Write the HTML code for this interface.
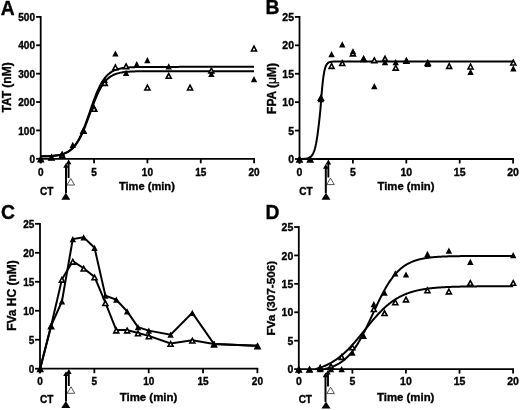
<!DOCTYPE html><html><head><meta charset="utf-8"><style>html,body{margin:0;padding:0;background:#fff;overflow:hidden}svg{display:block;will-change:transform}text{font-family:"Liberation Sans",sans-serif;font-weight:bold;fill:#000;stroke:#000;stroke-width:0.35px}</style></head><body><svg width="520" height="410" viewBox="0 0 520 410"><rect width="520" height="410" fill="#fff"/><text x="0.7" y="14.5" font-size="19.3">A</text><path d="M40.7 16V163.3" stroke="#000" stroke-width="1.8" fill="none"/><path d="M39.8 158.8H255" stroke="#000" stroke-width="1.8" fill="none"/><path d="M36.1 158.8H40.7" stroke="#000" stroke-width="1.8"/><text x="35" y="162.9" font-size="10" text-anchor="end">0</text><path d="M36.1 130.42H40.7" stroke="#000" stroke-width="1.8"/><text x="35" y="134.52" font-size="10" text-anchor="end">100</text><path d="M36.1 102.04H40.7" stroke="#000" stroke-width="1.8"/><text x="35" y="106.14" font-size="10" text-anchor="end">200</text><path d="M36.1 73.66H40.7" stroke="#000" stroke-width="1.8"/><text x="35" y="77.76" font-size="10" text-anchor="end">300</text><path d="M36.1 45.28H40.7" stroke="#000" stroke-width="1.8"/><text x="35" y="49.38" font-size="10" text-anchor="end">400</text><path d="M36.1 16.9H40.7" stroke="#000" stroke-width="1.8"/><text x="35" y="21" font-size="10" text-anchor="end">500</text><path d="M40.7 158.8V163.3" stroke="#000" stroke-width="1.8"/><text x="40.7" y="175.5" font-size="10" text-anchor="middle">0</text><path d="M94.05 158.8V163.3" stroke="#000" stroke-width="1.8"/><text x="94.05" y="175.5" font-size="10" text-anchor="middle">5</text><path d="M147.4 158.8V163.3" stroke="#000" stroke-width="1.8"/><text x="147.4" y="175.5" font-size="10" text-anchor="middle">10</text><path d="M200.75 158.8V163.3" stroke="#000" stroke-width="1.8"/><text x="200.75" y="175.5" font-size="10" text-anchor="middle">15</text><path d="M254.1 158.8V163.3" stroke="#000" stroke-width="1.8"/><text x="254.1" y="175.5" font-size="10" text-anchor="middle">20</text><text x="146.9" y="190.2" font-size="11.1" text-anchor="middle">Time (min)</text><text transform="translate(11.2,87.45) rotate(-90)" font-size="12" text-anchor="middle">TAT (nM)</text><path d="M40.8 156.4L41.87 156.38L42.93 156.35L44 156.32L45.06 156.29L46.13 156.25L47.2 156.21L48.26 156.16L49.33 156.1L50.39 156.03L51.46 155.95L52.53 155.86L53.59 155.76L54.66 155.64L55.72 155.51L56.79 155.36L57.86 155.18L58.92 154.98L59.99 154.75L61.05 154.49L62.12 154.19L63.19 153.85L64.25 153.46L65.32 153.02L66.38 152.52L67.45 151.95L68.52 151.3L69.58 150.57L70.65 149.75L71.71 148.82L72.78 147.78L73.85 146.62L74.91 145.33L75.98 143.89L77.04 142.3L78.11 140.56L79.18 138.65L80.24 136.58L81.31 134.34L82.37 131.94L83.44 129.38L84.51 126.69L85.57 123.86L86.64 120.92L87.7 117.9L88.77 114.82L89.84 111.71L90.9 108.6L91.97 105.53L93.03 102.5L94.1 99.57L95.17 96.74L96.23 94.04L97.3 91.49L98.36 89.08L99.43 86.85L100.5 84.77L101.56 82.87L102.63 81.12L103.69 79.53L104.76 78.1L105.83 76.8L106.89 75.64L107.96 74.6L109.02 73.68L110.09 72.85L111.16 72.12L112.22 71.48L113.29 70.91L114.35 70.41L115.42 69.96L116.49 69.57L117.55 69.23L118.62 68.93L119.68 68.67L120.75 68.44L121.82 68.24L122.88 68.07L123.95 67.92L125.01 67.78L126.08 67.66L127.15 67.56L128.21 67.47L129.28 67.4L130.34 67.33L131.41 67.27L132.48 67.22L133.54 67.17L134.61 67.14L135.67 67.1L136.74 67.07L137.81 67.05L138.87 67.02L139.94 67.01L141 66.99L142.07 66.97L143.14 66.96L144.2 66.95L145.27 66.94L146.33 66.93L147.4 66.92L148.47 66.92L149.53 66.91L150.6 66.91L151.66 66.9L152.73 66.9L153.8 66.9L154.86 66.89L155.93 66.89L156.99 66.89L158.06 66.89L159.13 66.88L160.19 66.88L161.26 66.88L162.32 66.88L163.39 66.88L164.46 66.88L165.52 66.88L166.59 66.88L167.65 66.88L168.72 66.88L169.79 66.88L170.85 66.88L171.92 66.88L172.98 66.88L174.05 66.88L175.12 66.88L176.18 66.88L177.25 66.88L178.31 66.88L179.38 66.87L180.45 66.87L181.51 66.87L182.58 66.87L183.64 66.87L184.71 66.87L185.78 66.87L186.84 66.87L187.91 66.87L188.97 66.87L190.04 66.87L191.11 66.87L192.17 66.87L193.24 66.87L194.3 66.87L195.37 66.87L196.44 66.87L197.5 66.87L198.57 66.87L199.63 66.87L200.7 66.87L201.77 66.87L202.83 66.87L203.9 66.87L204.96 66.87L206.03 66.87L207.1 66.87L208.16 66.87L209.23 66.87L210.29 66.87L211.36 66.87L212.43 66.87L213.49 66.87L214.56 66.87L215.62 66.87L216.69 66.87L217.76 66.87L218.82 66.87L219.89 66.87L220.95 66.87L222.02 66.87L223.09 66.87L224.15 66.87L225.22 66.87L226.28 66.87L227.35 66.87L228.42 66.87L229.48 66.87L230.55 66.87L231.61 66.87L232.68 66.87L233.75 66.87L234.81 66.87L235.88 66.87L236.94 66.87L238.01 66.87L239.08 66.87L240.14 66.87L241.21 66.87L242.27 66.87L243.34 66.87L244.41 66.87L245.47 66.87L246.54 66.87L247.6 66.87L248.67 66.87L249.74 66.87L250.8 66.87L251.87 66.87L252.93 66.87L254 66.87" fill="none" stroke="#000" stroke-width="2" stroke-linejoin="round"/><path d="M40.8 156.41L41.87 156.39L42.93 156.36L44 156.33L45.06 156.3L46.13 156.27L47.2 156.22L48.26 156.17L49.33 156.12L50.39 156.05L51.46 155.98L52.53 155.9L53.59 155.8L54.66 155.69L55.72 155.56L56.79 155.41L57.86 155.25L58.92 155.06L59.99 154.84L61.05 154.59L62.12 154.3L63.19 153.98L64.25 153.61L65.32 153.19L66.38 152.71L67.45 152.17L68.52 151.55L69.58 150.86L70.65 150.07L71.71 149.19L72.78 148.2L73.85 147.09L74.91 145.86L75.98 144.49L77.04 142.98L78.11 141.32L79.18 139.51L80.24 137.53L81.31 135.4L82.37 133.11L83.44 130.68L84.51 128.11L85.57 125.41L86.64 122.62L87.7 119.74L88.77 116.81L89.84 113.85L90.9 110.89L91.97 107.95L93.03 105.08L94.1 102.28L95.17 99.59L96.23 97.02L97.3 94.58L98.36 92.3L99.43 90.16L100.5 88.19L101.56 86.37L102.63 84.71L103.69 83.2L104.76 81.83L105.83 80.6L106.89 79.49L107.96 78.5L109.02 77.62L110.09 76.84L111.16 76.14L112.22 75.53L113.29 74.98L114.35 74.51L115.42 74.09L116.49 73.72L117.55 73.39L118.62 73.11L119.68 72.86L120.75 72.64L121.82 72.45L122.88 72.28L123.95 72.13L125.01 72.01L126.08 71.9L127.15 71.8L128.21 71.71L129.28 71.64L130.34 71.58L131.41 71.52L132.48 71.47L133.54 71.43L134.61 71.39L135.67 71.36L136.74 71.33L137.81 71.31L138.87 71.29L139.94 71.27L141 71.25L142.07 71.24L143.14 71.23L144.2 71.21L145.27 71.21L146.33 71.2L147.4 71.19L148.47 71.18L149.53 71.18L150.6 71.17L151.66 71.17L152.73 71.17L153.8 71.16L154.86 71.16L155.93 71.16L156.99 71.16L158.06 71.15L159.13 71.15L160.19 71.15L161.26 71.15L162.32 71.15L163.39 71.15L164.46 71.15L165.52 71.15L166.59 71.15L167.65 71.15L168.72 71.15L169.79 71.15L170.85 71.15L171.92 71.15L172.98 71.14L174.05 71.14L175.12 71.14L176.18 71.14L177.25 71.14L178.31 71.14L179.38 71.14L180.45 71.14L181.51 71.14L182.58 71.14L183.64 71.14L184.71 71.14L185.78 71.14L186.84 71.14L187.91 71.14L188.97 71.14L190.04 71.14L191.11 71.14L192.17 71.14L193.24 71.14L194.3 71.14L195.37 71.14L196.44 71.14L197.5 71.14L198.57 71.14L199.63 71.14L200.7 71.14L201.77 71.14L202.83 71.14L203.9 71.14L204.96 71.14L206.03 71.14L207.1 71.14L208.16 71.14L209.23 71.14L210.29 71.14L211.36 71.14L212.43 71.14L213.49 71.14L214.56 71.14L215.62 71.14L216.69 71.14L217.76 71.14L218.82 71.14L219.89 71.14L220.95 71.14L222.02 71.14L223.09 71.14L224.15 71.14L225.22 71.14L226.28 71.14L227.35 71.14L228.42 71.14L229.48 71.14L230.55 71.14L231.61 71.14L232.68 71.14L233.75 71.14L234.81 71.14L235.88 71.14L236.94 71.14L238.01 71.14L239.08 71.14L240.14 71.14L241.21 71.14L242.27 71.14L243.34 71.14L244.41 71.14L245.47 71.14L246.54 71.14L247.6 71.14L248.67 71.14L249.74 71.14L250.8 71.14L251.87 71.14L252.93 71.14L254 71.14" fill="none" stroke="#000" stroke-width="2" stroke-linejoin="round"/><g><path d="M40.8 156.95L43.3 161.65L38.3 161.65Z" fill="#fff" stroke="#000" stroke-width="1.6" stroke-linejoin="miter"/><path d="M51.46 155.24L53.96 159.94L48.96 159.94Z" fill="#fff" stroke="#000" stroke-width="1.6" stroke-linejoin="miter"/><path d="M62.12 152.97L64.62 157.67L59.62 157.67Z" fill="#fff" stroke="#000" stroke-width="1.6" stroke-linejoin="miter"/><path d="M83.44 128.49L85.94 133.19L80.94 133.19Z" fill="#fff" stroke="#000" stroke-width="1.6" stroke-linejoin="miter"/><path d="M94.1 106.58L96.6 111.28L91.6 111.28Z" fill="#fff" stroke="#000" stroke-width="1.6" stroke-linejoin="miter"/><path d="M104.76 80.68L107.26 85.38L102.26 85.38Z" fill="#fff" stroke="#000" stroke-width="1.6" stroke-linejoin="miter"/><path d="M115.42 65.02L117.92 69.72L112.92 69.72Z" fill="#fff" stroke="#000" stroke-width="1.6" stroke-linejoin="miter"/><path d="M126.08 63.89L128.58 68.59L123.58 68.59Z" fill="#fff" stroke="#000" stroke-width="1.6" stroke-linejoin="miter"/><path d="M147.4 85.23L149.9 89.93L144.9 89.93Z" fill="#fff" stroke="#000" stroke-width="1.6" stroke-linejoin="miter"/><path d="M168.72 73.56L171.22 78.26L166.22 78.26Z" fill="#fff" stroke="#000" stroke-width="1.6" stroke-linejoin="miter"/><path d="M190.04 85.23L192.54 89.93L187.54 89.93Z" fill="#fff" stroke="#000" stroke-width="1.6" stroke-linejoin="miter"/><path d="M211.36 68.15L213.86 72.85L208.86 72.85Z" fill="#fff" stroke="#000" stroke-width="1.6" stroke-linejoin="miter"/><path d="M254 46.24L256.5 50.94L251.5 50.94Z" fill="#fff" stroke="#000" stroke-width="1.6" stroke-linejoin="miter"/></g><g><path d="M40.8 155.7L44 161.9L37.6 161.9Z"/><path d="M51.46 153.99L54.66 160.19L48.26 160.19Z"/><path d="M62.12 150.58L65.32 156.78L58.92 156.78Z"/><path d="M72.78 141.75L75.98 147.95L69.58 147.95Z"/><path d="M83.44 127.24L86.64 133.44L80.24 133.44Z"/><path d="M94.1 104.47L97.3 110.67L90.9 110.67Z"/><path d="M104.76 76.87L107.96 83.07L101.56 83.07Z"/><path d="M115.42 50.4L118.62 56.6L112.22 56.6Z"/><path d="M126.08 69.75L129.28 75.95L122.88 75.95Z"/><path d="M136.74 60.93L139.94 67.13L133.54 67.13Z"/><path d="M147.4 56.94L150.6 63.14L144.2 63.14Z"/><path d="M168.72 63.21L171.92 69.41L165.52 69.41Z"/><path d="M211.36 70.89L214.56 77.09L208.16 77.09Z"/><path d="M254 76.01L257.2 82.21L250.8 82.21Z"/></g><path d="M94.1 106.58L96.6 111.28L91.6 111.28Z" fill="#fff" stroke="#000" stroke-width="1.6" stroke-linejoin="miter"/><text x="46.7" y="195" font-size="10" text-anchor="middle">CT</text><path d="M70.8 178.5L74.6 185L67 185Z" fill="#fff" stroke="#555" stroke-width="1"/><path d="M68.6 162.8V178" stroke="#000" stroke-width="1.9"/><path d="M68.6 159.4L71.4 164.2L65.8 164.2Z"/><path d="M66 166V193.3" stroke="#000" stroke-width="2"/><path d="M66 163L68.8 167.8L63.2 167.8Z"/><path d="M65.8 192.8L70.3 199.8L61.3 199.8Z"/><text x="265.6" y="14.45" font-size="19.3">B</text><path d="M299.5 16V163.5" stroke="#000" stroke-width="1.8" fill="none"/><path d="M298.6 159H514" stroke="#000" stroke-width="1.8" fill="none"/><path d="M294.9 159H299.5" stroke="#000" stroke-width="1.8"/><text x="294" y="163.1" font-size="10.5" text-anchor="end">0</text><path d="M294.9 130.58H299.5" stroke="#000" stroke-width="1.8"/><text x="294" y="134.68" font-size="10.5" text-anchor="end">5</text><path d="M294.9 102.16H299.5" stroke="#000" stroke-width="1.8"/><text x="294" y="106.26" font-size="10.5" text-anchor="end">10</text><path d="M294.9 73.74H299.5" stroke="#000" stroke-width="1.8"/><text x="294" y="77.84" font-size="10.5" text-anchor="end">15</text><path d="M294.9 45.32H299.5" stroke="#000" stroke-width="1.8"/><text x="294" y="49.42" font-size="10.5" text-anchor="end">20</text><path d="M294.9 16.9H299.5" stroke="#000" stroke-width="1.8"/><text x="294" y="21" font-size="10.5" text-anchor="end">25</text><path d="M299.5 159V163.5" stroke="#000" stroke-width="1.8"/><text x="299.5" y="175.6" font-size="10.5" text-anchor="middle">0</text><path d="M352.9 159V163.5" stroke="#000" stroke-width="1.8"/><text x="352.9" y="175.6" font-size="10.5" text-anchor="middle">5</text><path d="M406.3 159V163.5" stroke="#000" stroke-width="1.8"/><text x="406.3" y="175.6" font-size="10.5" text-anchor="middle">10</text><path d="M459.7 159V163.5" stroke="#000" stroke-width="1.8"/><text x="459.7" y="175.6" font-size="10.5" text-anchor="middle">15</text><path d="M513.1 159V163.5" stroke="#000" stroke-width="1.8"/><text x="513.1" y="175.6" font-size="10.5" text-anchor="middle">20</text><text x="406" y="189.8" font-size="11.3" text-anchor="middle">Time (min)</text><text transform="translate(276.4,88.5) rotate(-90)" font-size="12" text-anchor="middle">FPA (<tspan font-weight="normal">μ</tspan>M)</text><path d="M299.5 158.97L300.03 158.96L300.57 158.96L301.1 158.95L301.64 158.93L302.17 158.92L302.71 158.9L303.24 158.88L303.78 158.85L304.31 158.81L304.85 158.77L305.38 158.72L305.91 158.65L306.45 158.57L306.98 158.47L307.52 158.35L308.05 158.2L308.59 158.01L309.12 157.79L309.66 157.51L310.19 157.17L310.72 156.76L311.26 156.26L311.79 155.64L312.33 154.9L312.86 154L313.4 152.91L313.93 151.61L314.47 150.05L315 148.21L315.54 146.04L316.07 143.52L316.6 140.61L317.14 137.29L317.67 133.58L318.21 129.47L318.74 125.02L319.28 120.27L319.81 115.32L320.35 110.26L320.88 103.15L321.41 96.33L321.95 90.06L322.48 84.5L323.02 79.74L323.55 75.78L324.09 72.56L324.62 69.99L325.16 67.98L325.69 66.42L326.23 65.22L326.76 64.31L327.29 63.61L327.83 63.09L328.36 62.7L328.9 62.4L329.43 62.18L329.97 62.02L330.5 61.89L331.04 61.8L331.57 61.73L332.1 61.68L332.64 61.64L333.17 61.61L333.71 61.59L334.24 61.58L334.78 61.56L335.31 61.56L335.85 61.55L336.38 61.54L336.92 61.54L337.45 61.54L337.98 61.54L338.52 61.53L339.05 61.53L339.59 61.53L340.12 61.53L340.66 61.53L341.19 61.53L341.73 61.53L342.26 61.53L342.79 61.53L343.33 61.53L343.86 61.53L344.4 61.53L344.93 61.53L345.47 61.53L346 61.53L346.54 61.53L347.07 61.53L347.61 61.53L348.14 61.53L348.67 61.53L349.21 61.53L349.74 61.53L350.28 61.53L350.81 61.53L351.35 61.53L351.88 61.53L352.42 61.53L352.95 61.53L353.48 61.53L354.02 61.53L354.55 61.53L355.09 61.53L355.62 61.53L356.16 61.53L356.69 61.53L357.23 61.53L357.76 61.53L358.3 61.53L358.83 61.53L359.36 61.53L359.9 61.53L360.43 61.53L360.97 61.53L361.5 61.53L362.04 61.53L362.57 61.53L363.11 61.53L363.64 61.53L364.17 61.53L364.71 61.53L365.24 61.53L365.78 61.53L366.31 61.53L366.85 61.53L367.38 61.53L367.92 61.53L368.45 61.53L368.99 61.53L369.52 61.53L370.05 61.53L370.59 61.53L371.12 61.53L371.66 61.53L372.19 61.53L372.73 61.53L373.26 61.53L373.8 61.53L374.33 61.53L374.86 61.53L375.4 61.53L375.93 61.53L376.47 61.53L377 61.53L377.54 61.53L378.07 61.53L378.61 61.53L379.14 61.53L379.68 61.53L380.21 61.53L380.74 61.53L381.28 61.53L381.81 61.53L382.35 61.53L382.88 61.53L383.42 61.53L383.95 61.53L384.49 61.53L385.02 61.53L385.55 61.53L386.09 61.53L386.62 61.53L387.16 61.53L387.69 61.53L388.23 61.53L388.76 61.53L389.3 61.53L389.83 61.53L390.37 61.53L390.9 61.53L391.43 61.53L391.97 61.53L392.5 61.53L393.04 61.53L393.57 61.53L394.11 61.53L394.64 61.53L395.18 61.53L395.71 61.53L396.24 61.53L396.78 61.53L397.31 61.53L397.85 61.53L398.38 61.53L398.92 61.53L399.45 61.53L399.99 61.53L400.52 61.53L401.06 61.53L401.59 61.53L402.12 61.53L402.66 61.53L403.19 61.53L403.73 61.53L404.26 61.53L404.8 61.53L405.33 61.53L405.87 61.53L406.4 61.53L406.93 61.53L407.47 61.53L408 61.53L408.54 61.53L409.07 61.53L409.61 61.53L410.14 61.53L410.68 61.53L411.21 61.53L411.75 61.53L412.28 61.53L412.81 61.53L413.35 61.53L413.88 61.53L414.42 61.53L414.95 61.53L415.49 61.53L416.02 61.53L416.56 61.53L417.09 61.53L417.62 61.53L418.16 61.53L418.69 61.53L419.23 61.53L419.76 61.53L420.3 61.53L420.83 61.53L421.37 61.53L421.9 61.53L422.44 61.53L422.97 61.53L423.5 61.53L424.04 61.53L424.57 61.53L425.11 61.53L425.64 61.53L426.18 61.53L426.71 61.53L427.25 61.53L427.78 61.53L428.31 61.53L428.85 61.53L429.38 61.53L429.92 61.53L430.45 61.53L430.99 61.53L431.52 61.53L432.06 61.53L432.59 61.53L433.12 61.53L433.66 61.53L434.19 61.53L434.73 61.53L435.26 61.53L435.8 61.53L436.33 61.53L436.87 61.53L437.4 61.53L437.94 61.53L438.47 61.53L439 61.53L439.54 61.53L440.07 61.53L440.61 61.53L441.14 61.53L441.68 61.53L442.21 61.53L442.75 61.53L443.28 61.53L443.81 61.53L444.35 61.53L444.88 61.53L445.42 61.53L445.95 61.53L446.49 61.53L447.02 61.53L447.56 61.53L448.09 61.53L448.63 61.53L449.16 61.53L449.69 61.53L450.23 61.53L450.76 61.53L451.3 61.53L451.83 61.53L452.37 61.53L452.9 61.53L453.44 61.53L453.97 61.53L454.5 61.53L455.04 61.53L455.57 61.53L456.11 61.53L456.64 61.53L457.18 61.53L457.71 61.53L458.25 61.53L458.78 61.53L459.32 61.53L459.85 61.53L460.38 61.53L460.92 61.53L461.45 61.53L461.99 61.53L462.52 61.53L463.06 61.53L463.59 61.53L464.13 61.53L464.66 61.53L465.19 61.53L465.73 61.53L466.26 61.53L466.8 61.53L467.33 61.53L467.87 61.53L468.4 61.53L468.94 61.53L469.47 61.53L470.01 61.53L470.54 61.53L471.07 61.53L471.61 61.53L472.14 61.53L472.68 61.53L473.21 61.53L473.75 61.53L474.28 61.53L474.82 61.53L475.35 61.53L475.88 61.53L476.42 61.53L476.95 61.53L477.49 61.53L478.02 61.53L478.56 61.53L479.09 61.53L479.63 61.53L480.16 61.53L480.7 61.53L481.23 61.53L481.76 61.53L482.3 61.53L482.83 61.53L483.37 61.53L483.9 61.53L484.44 61.53L484.97 61.53L485.51 61.53L486.04 61.53L486.57 61.53L487.11 61.53L487.64 61.53L488.18 61.53L488.71 61.53L489.25 61.53L489.78 61.53L490.32 61.53L490.85 61.53L491.39 61.53L491.92 61.53L492.45 61.53L492.99 61.53L493.52 61.53L494.06 61.53L494.59 61.53L495.13 61.53L495.66 61.53L496.2 61.53L496.73 61.53L497.26 61.53L497.8 61.53L498.33 61.53L498.87 61.53L499.4 61.53L499.94 61.53L500.47 61.53L501.01 61.53L501.54 61.53L502.08 61.53L502.61 61.53L503.14 61.53L503.68 61.53L504.21 61.53L504.75 61.53L505.28 61.53L505.82 61.53L506.35 61.53L506.89 61.53L507.42 61.53L507.95 61.53L508.49 61.53L509.02 61.53L509.56 61.53L510.09 61.53L510.63 61.53L511.16 61.53L511.7 61.53L512.23 61.53L512.77 61.53L513.3 61.53" fill="none" stroke="#000" stroke-width="2" stroke-linejoin="round"/><g><path d="M299.5 157.15L302 161.85L297 161.85Z" fill="#fff" stroke="#000" stroke-width="1.6" stroke-linejoin="miter"/><path d="M310.19 157.15L312.69 161.85L307.69 161.85Z" fill="#fff" stroke="#000" stroke-width="1.6" stroke-linejoin="miter"/><path d="M320.88 95.59L323.38 100.29L318.38 100.29Z" fill="#fff" stroke="#000" stroke-width="1.6" stroke-linejoin="miter"/><path d="M331.57 63.67L334.07 68.37L329.07 68.37Z" fill="#fff" stroke="#000" stroke-width="1.6" stroke-linejoin="miter"/><path d="M342.26 60.82L344.76 65.52L339.76 65.52Z" fill="#fff" stroke="#000" stroke-width="1.6" stroke-linejoin="miter"/><path d="M352.95 51.13L355.45 55.83L350.45 55.83Z" fill="#fff" stroke="#000" stroke-width="1.6" stroke-linejoin="miter"/><path d="M363.64 56.83L366.14 61.53L361.14 61.53Z" fill="#fff" stroke="#000" stroke-width="1.6" stroke-linejoin="miter"/><path d="M374.33 57.97L376.83 62.67L371.83 62.67Z" fill="#fff" stroke="#000" stroke-width="1.6" stroke-linejoin="miter"/><path d="M385.02 56.26L387.52 60.96L382.52 60.96Z" fill="#fff" stroke="#000" stroke-width="1.6" stroke-linejoin="miter"/><path d="M395.71 65.38L398.21 70.08L393.21 70.08Z" fill="#fff" stroke="#000" stroke-width="1.6" stroke-linejoin="miter"/><path d="M406.4 58.54L408.9 63.24L403.9 63.24Z" fill="#fff" stroke="#000" stroke-width="1.6" stroke-linejoin="miter"/><path d="M427.78 60.54L430.28 65.23L425.28 65.23Z" fill="#fff" stroke="#000" stroke-width="1.6" stroke-linejoin="miter"/><path d="M449.16 63.67L451.66 68.37L446.66 68.37Z" fill="#fff" stroke="#000" stroke-width="1.6" stroke-linejoin="miter"/><path d="M470.54 64.24L473.04 68.94L468.04 68.94Z" fill="#fff" stroke="#000" stroke-width="1.6" stroke-linejoin="miter"/><path d="M513.3 60.25L515.8 64.95L510.8 64.95Z" fill="#fff" stroke="#000" stroke-width="1.6" stroke-linejoin="miter"/></g><g><path d="M299.5 155.9L302.7 162.1L296.3 162.1Z"/><path d="M310.19 155.9L313.39 162.1L306.99 162.1Z"/><path d="M320.88 96.05L324.08 102.25L317.68 102.25Z"/><path d="M331.57 51.02L334.77 57.22L328.37 57.22Z"/><path d="M342.26 41.33L345.46 47.53L339.06 47.53Z"/><path d="M352.95 48.17L356.15 54.37L349.75 54.37Z"/><path d="M363.64 55.01L366.84 61.21L360.44 61.21Z"/><path d="M374.33 82.94L377.53 89.14L371.13 89.14Z"/><path d="M385.02 59L388.22 65.2L381.82 65.2Z"/><path d="M395.71 59L398.91 65.2L392.51 65.2Z"/><path d="M406.4 57.29L409.6 63.49L403.2 63.49Z"/><path d="M427.78 60.71L430.98 66.91L424.58 66.91Z"/><path d="M470.54 68.69L473.74 74.89L467.34 74.89Z"/><path d="M513.3 65.27L516.5 71.47L510.1 71.47Z"/></g><text x="306" y="195" font-size="10" text-anchor="middle">CT</text><path d="M330.5 178.1L334.3 184.6L326.7 184.6Z" fill="#fff" stroke="#555" stroke-width="1"/><path d="M328.35 163V177.5" stroke="#000" stroke-width="1.9"/><path d="M328.35 159.6L331.15 164.4L325.55 164.4Z"/><path d="M325.8 167V193.3" stroke="#000" stroke-width="2"/><path d="M325.8 164L328.6 168.8L323 168.8Z"/><path d="M326 192.8L330.5 199.8L321.5 199.8Z"/><text x="1.0" y="219.0" font-size="19.3">C</text><path d="M40 222.9V373.2" stroke="#000" stroke-width="1.8" fill="none"/><path d="M39.1 368.7H258.3" stroke="#000" stroke-width="1.8" fill="none"/><path d="M35 368.7H40" stroke="#000" stroke-width="1.8"/><text x="34.4" y="372.8" font-size="10" text-anchor="end">0</text><path d="M35 339.72H40" stroke="#000" stroke-width="1.8"/><text x="34.4" y="343.82" font-size="10" text-anchor="end">5</text><path d="M35 310.74H40" stroke="#000" stroke-width="1.8"/><text x="34.4" y="314.84" font-size="10" text-anchor="end">10</text><path d="M35 281.76H40" stroke="#000" stroke-width="1.8"/><text x="34.4" y="285.86" font-size="10" text-anchor="end">15</text><path d="M35 252.78H40" stroke="#000" stroke-width="1.8"/><text x="34.4" y="256.88" font-size="10" text-anchor="end">20</text><path d="M35 223.8H40" stroke="#000" stroke-width="1.8"/><text x="34.4" y="227.9" font-size="10" text-anchor="end">25</text><path d="M40 368.7V373.2" stroke="#000" stroke-width="1.8"/><text x="40" y="385" font-size="10" text-anchor="middle">0</text><path d="M94.35 368.7V373.2" stroke="#000" stroke-width="1.8"/><text x="94.35" y="385" font-size="10" text-anchor="middle">5</text><path d="M148.7 368.7V373.2" stroke="#000" stroke-width="1.8"/><text x="148.7" y="385" font-size="10" text-anchor="middle">10</text><path d="M203.05 368.7V373.2" stroke="#000" stroke-width="1.8"/><text x="203.05" y="385" font-size="10" text-anchor="middle">15</text><path d="M257.4 368.7V373.2" stroke="#000" stroke-width="1.8"/><text x="257.4" y="385" font-size="10" text-anchor="middle">20</text><text x="148.5" y="400.5" font-size="11.45" text-anchor="middle">Time (min)</text><text transform="translate(15.5,295.5) rotate(-90)" font-size="12" text-anchor="middle">FVa HC (nM)</text><path d="M40.2 368.5L51.07 325.94L61.93 301.45L72.8 239.07L83.66 237.32L94.53 247.82L105.39 295.62L116.26 299.71L127.12 311.37L137.99 327.11L148.85 330.61L170.58 334.69L192.31 312.82L214.04 344.01L257.5 345.76" fill="none" stroke="#000" stroke-width="2" stroke-linejoin="miter"/><path d="M40.2 368.5L51.07 325.94L61.93 279.3L72.8 261.23L83.66 268.22L94.53 276.97L105.39 302.62L116.26 330.02L127.12 330.02L137.99 332.94L148.85 335.85L170.58 343.43L192.31 340.22L214.04 344.01L257.5 345.76" fill="none" stroke="#000" stroke-width="2" stroke-linejoin="miter"/><g><path d="M40.2 366.65L42.7 371.35L37.7 371.35Z" fill="#fff" stroke="#000" stroke-width="1.6" stroke-linejoin="miter"/><path d="M51.07 324.09L53.57 328.79L48.57 328.79Z" fill="#fff" stroke="#000" stroke-width="1.6" stroke-linejoin="miter"/><path d="M61.93 277.45L64.43 282.15L59.43 282.15Z" fill="#fff" stroke="#000" stroke-width="1.6" stroke-linejoin="miter"/><path d="M72.8 259.38L75.3 264.08L70.3 264.08Z" fill="#fff" stroke="#000" stroke-width="1.6" stroke-linejoin="miter"/><path d="M83.66 266.37L86.16 271.07L81.16 271.07Z" fill="#fff" stroke="#000" stroke-width="1.6" stroke-linejoin="miter"/><path d="M94.53 275.12L97.03 279.82L92.03 279.82Z" fill="#fff" stroke="#000" stroke-width="1.6" stroke-linejoin="miter"/><path d="M105.39 300.77L107.89 305.47L102.89 305.47Z" fill="#fff" stroke="#000" stroke-width="1.6" stroke-linejoin="miter"/><path d="M116.26 328.17L118.76 332.87L113.76 332.87Z" fill="#fff" stroke="#000" stroke-width="1.6" stroke-linejoin="miter"/><path d="M127.12 328.17L129.62 332.87L124.62 332.87Z" fill="#fff" stroke="#000" stroke-width="1.6" stroke-linejoin="miter"/><path d="M137.99 331.09L140.49 335.79L135.49 335.79Z" fill="#fff" stroke="#000" stroke-width="1.6" stroke-linejoin="miter"/><path d="M148.85 334L151.35 338.7L146.35 338.7Z" fill="#fff" stroke="#000" stroke-width="1.6" stroke-linejoin="miter"/><path d="M170.58 341.58L173.08 346.28L168.08 346.28Z" fill="#fff" stroke="#000" stroke-width="1.6" stroke-linejoin="miter"/><path d="M192.31 338.37L194.81 343.07L189.81 343.07Z" fill="#fff" stroke="#000" stroke-width="1.6" stroke-linejoin="miter"/><path d="M214.04 342.16L216.54 346.86L211.54 346.86Z" fill="#fff" stroke="#000" stroke-width="1.6" stroke-linejoin="miter"/><path d="M257.5 343.91L260 348.61L255 348.61Z" fill="#fff" stroke="#000" stroke-width="1.6" stroke-linejoin="miter"/></g><g><path d="M40.2 365.4L43.4 371.6L37 371.6Z"/><path d="M51.07 322.84L54.27 329.04L47.87 329.04Z"/><path d="M61.93 298.35L65.13 304.56L58.73 304.56Z"/><path d="M72.8 235.97L76 242.17L69.59 242.17Z"/><path d="M83.66 234.22L86.86 240.42L80.46 240.42Z"/><path d="M94.53 244.72L97.73 250.92L91.33 250.92Z"/><path d="M105.39 292.52L108.59 298.73L102.19 298.73Z"/><path d="M116.26 296.61L119.46 302.81L113.06 302.81Z"/><path d="M127.12 308.27L130.32 314.47L123.92 314.47Z"/><path d="M137.99 324.01L141.19 330.21L134.79 330.21Z"/><path d="M148.85 327.5L152.05 333.71L145.65 333.71Z"/><path d="M170.58 331.59L173.78 337.79L167.38 337.79Z"/><path d="M192.31 309.72L195.51 315.92L189.11 315.92Z"/><path d="M214.04 340.91L217.24 347.11L210.84 347.11Z"/><path d="M257.5 342.66L260.7 348.86L254.3 348.86Z"/></g><text x="46.7" y="403.2" font-size="10" text-anchor="middle">CT</text><path d="M71 386.8L74.8 393.3L67.2 393.3Z" fill="#fff" stroke="#555" stroke-width="1"/><path d="M68.8 372.5V386" stroke="#000" stroke-width="1.9"/><path d="M68.8 369.1L71.6 373.9L66 373.9Z"/><path d="M66 374.3V401.5" stroke="#000" stroke-width="2"/><path d="M66 371.3L68.8 376.1L63.2 376.1Z"/><path d="M65.8 401L70.3 408L61.3 408Z"/><text x="265.6" y="219.15" font-size="19.3">D</text><path d="M298.8 226.1V373.6" stroke="#000" stroke-width="1.8" fill="none"/><path d="M297.9 369.1H514" stroke="#000" stroke-width="1.8" fill="none"/><path d="M294.2 369.1H298.8" stroke="#000" stroke-width="1.8"/><text x="293.3" y="373.2" font-size="10.5" text-anchor="end">0</text><path d="M294.2 340.68H298.8" stroke="#000" stroke-width="1.8"/><text x="293.3" y="344.78" font-size="10.5" text-anchor="end">5</text><path d="M294.2 312.26H298.8" stroke="#000" stroke-width="1.8"/><text x="293.3" y="316.36" font-size="10.5" text-anchor="end">10</text><path d="M294.2 283.84H298.8" stroke="#000" stroke-width="1.8"/><text x="293.3" y="287.94" font-size="10.5" text-anchor="end">15</text><path d="M294.2 255.42H298.8" stroke="#000" stroke-width="1.8"/><text x="293.3" y="259.52" font-size="10.5" text-anchor="end">20</text><path d="M294.2 227H298.8" stroke="#000" stroke-width="1.8"/><text x="293.3" y="231.1" font-size="10.5" text-anchor="end">25</text><path d="M298.8 369.1V373.6" stroke="#000" stroke-width="1.8"/><text x="298.8" y="385" font-size="10.5" text-anchor="middle">0</text><path d="M352.38 369.1V373.6" stroke="#000" stroke-width="1.8"/><text x="352.38" y="385" font-size="10.5" text-anchor="middle">5</text><path d="M405.95 369.1V373.6" stroke="#000" stroke-width="1.8"/><text x="405.95" y="385" font-size="10.5" text-anchor="middle">10</text><path d="M459.52 369.1V373.6" stroke="#000" stroke-width="1.8"/><text x="459.52" y="385" font-size="10.5" text-anchor="middle">15</text><path d="M513.1 369.1V373.6" stroke="#000" stroke-width="1.8"/><text x="513.1" y="385" font-size="10.5" text-anchor="middle">20</text><text x="405.7" y="400.6" font-size="11.4" text-anchor="middle">Time (min)</text><text transform="translate(274.9,298.2) rotate(-90)" font-size="11.7" text-anchor="middle">FVa (307-506)</text><path d="M324.53 369.02L325.06 368.9L325.6 368.77L326.14 368.64L326.67 368.5L327.21 368.36L327.74 368.22L328.28 368.06L328.82 367.91L329.35 367.74L329.89 367.57L330.42 367.4L330.96 367.21L331.5 367.02L332.03 366.82L332.57 366.62L333.1 366.41L333.64 366.19L334.18 365.96L334.71 365.72L335.25 365.48L335.78 365.22L336.32 364.96L336.86 364.69L337.39 364.41L337.93 364.11L338.46 363.81L339 363.5L339.54 363.17L340.07 362.84L340.61 362.49L341.14 362.13L341.68 361.76L342.22 361.38L342.75 360.98L343.29 360.57L343.82 360.15L344.36 359.72L344.9 359.26L345.43 358.8L345.97 358.32L346.5 357.83L347.04 357.32L347.58 356.79L348.11 356.25L348.65 355.7L349.18 355.12L349.72 354.53L350.26 353.93L350.79 353.3L351.33 352.66L351.86 352.01L352.4 351.33L352.94 350.64L353.47 349.93L354.01 349.2L354.54 348.45L355.08 347.69L355.62 346.91L356.15 346.11L356.69 345.29L357.22 344.45L357.76 343.6L358.3 342.72L358.83 341.84L359.37 340.93L359.9 340.01L360.44 339.07L360.98 338.11L361.51 337.14L362.05 336.15L362.58 335.14L363.12 334.12L363.66 333.09L364.19 332.05L364.73 330.99L365.26 329.91L365.8 328.83L366.34 327.73L366.87 326.63L367.41 325.51L367.94 324.39L368.48 323.26L369.02 322.12L369.55 320.97L370.09 319.82L370.62 318.66L371.16 317.5L371.7 316.34L372.23 315.18L372.77 314.01L373.3 312.84L373.84 311.68L374.38 310.52L374.91 309.36L375.45 308.2L375.98 307.05L376.52 305.9L377.06 304.76L377.59 303.63L378.13 302.51L378.66 301.39L379.2 300.29L379.74 299.19L380.27 298.11L380.81 297.03L381.34 295.97L381.88 294.93L382.42 293.89L382.95 292.88L383.49 291.87L384.02 290.88L384.56 289.91L385.1 288.95L385.63 288.01L386.17 287.09L386.7 286.18L387.24 285.29L387.78 284.42L388.31 283.57L388.85 282.73L389.38 281.91L389.92 281.11L390.46 280.33L390.99 279.57L391.53 278.82L392.06 278.09L392.6 277.38L393.14 276.69L393.67 276.01L394.21 275.36L394.74 274.71L395.28 274.09L395.82 273.49L396.35 272.9L396.89 272.32L397.42 271.77L397.96 271.23L398.5 270.7L399.03 270.19L399.57 269.7L400.1 269.22L400.64 268.75L401.18 268.3L401.71 267.87L402.25 267.45L402.78 267.04L403.32 266.64L403.86 266.26L404.39 265.89L404.93 265.53L405.46 265.18L406 264.84L406.54 264.52L407.07 264.21L407.61 263.9L408.14 263.61L408.68 263.33L409.22 263.06L409.75 262.79L410.29 262.54L410.82 262.3L411.36 262.06L411.9 261.83L412.43 261.61L412.97 261.4L413.5 261.19L414.04 261L414.58 260.81L415.11 260.62L415.65 260.45L416.18 260.28L416.72 260.11L417.26 259.95L417.79 259.8L418.33 259.66L418.86 259.51L419.4 259.38L419.94 259.25L420.47 259.12L421.01 259L421.54 258.88L422.08 258.77L422.62 258.66L423.15 258.56L423.69 258.46L424.22 258.36L424.76 258.27L425.3 258.18L425.83 258.09L426.37 258.01L426.9 257.93L427.44 257.85L427.98 257.78L428.51 257.71L429.05 257.64L429.58 257.58L430.12 257.51L430.66 257.45L431.19 257.39L431.73 257.34L432.26 257.28L432.8 257.23L433.34 257.18L433.87 257.14L434.41 257.09L434.94 257.05L435.48 257L436.02 256.96L436.55 256.92L437.09 256.88L437.62 256.85L438.16 256.81L438.7 256.78L439.23 256.75L439.77 256.72L440.3 256.69L440.84 256.66L441.38 256.63L441.91 256.6L442.45 256.58L442.98 256.55L443.52 256.53L444.06 256.51L444.59 256.49L445.13 256.47L445.66 256.45L446.2 256.43L446.74 256.41L447.27 256.39L447.81 256.37L448.34 256.36L448.88 256.34L449.42 256.33L449.95 256.31L450.49 256.3L451.02 256.28L451.56 256.27L452.1 256.26L452.63 256.25L453.17 256.24L453.7 256.22L454.24 256.21L454.78 256.2L455.31 256.19L455.85 256.18L456.38 256.18L456.92 256.17L457.46 256.16L457.99 256.15L458.53 256.14L459.06 256.14L459.6 256.13L460.14 256.12L460.67 256.11L461.21 256.11L461.74 256.1L462.28 256.1L462.82 256.09L463.35 256.09L463.89 256.08L464.42 256.08L464.96 256.07L465.5 256.07L466.03 256.06L466.57 256.06L467.1 256.05L467.64 256.05L468.18 256.05L468.71 256.04L469.25 256.04L469.78 256.04L470.32 256.03L470.86 256.03L471.39 256.03L471.93 256.02L472.46 256.02L473 256.02L473.54 256.02L474.07 256.01L474.61 256.01L475.14 256.01L475.68 256.01L476.22 256L476.75 256L477.29 256L477.82 256L478.36 256L478.9 256L479.43 255.99L479.97 255.99L480.5 255.99L481.04 255.99L481.58 255.99L482.11 255.99L482.65 255.99L483.18 255.98L483.72 255.98L484.26 255.98L484.79 255.98L485.33 255.98L485.86 255.98L486.4 255.98L486.94 255.98L487.47 255.98L488.01 255.98L488.54 255.97L489.08 255.97L489.62 255.97L490.15 255.97L490.69 255.97L491.22 255.97L491.76 255.97L492.3 255.97L492.83 255.97L493.37 255.97L493.9 255.97L494.44 255.97L494.98 255.97L495.51 255.97L496.05 255.97L496.58 255.97L497.12 255.97L497.66 255.97L498.19 255.96L498.73 255.96L499.26 255.96L499.8 255.96L500.34 255.96L500.87 255.96L501.41 255.96L501.94 255.96L502.48 255.96L503.02 255.96L503.55 255.96L504.09 255.96L504.62 255.96L505.16 255.96L505.7 255.96L506.23 255.96L506.77 255.96L507.3 255.96L507.84 255.96L508.38 255.96L508.91 255.96L509.45 255.96L509.98 255.96L510.52 255.96L511.06 255.96L511.59 255.96L512.13 255.96L512.66 255.96L513.2 255.96" fill="none" stroke="#000" stroke-width="2" stroke-linejoin="round"/><path d="M315.42 369.1L315.95 368.95L316.49 368.8L317.02 368.64L317.56 368.48L318.1 368.31L318.63 368.15L319.17 367.97L319.7 367.79L320.24 367.61L320.78 367.42L321.31 367.23L321.85 367.03L322.38 366.83L322.92 366.62L323.46 366.41L323.99 366.19L324.53 365.96L325.06 365.73L325.6 365.5L326.14 365.26L326.67 365.01L327.21 364.76L327.74 364.5L328.28 364.23L328.82 363.96L329.35 363.68L329.89 363.4L330.42 363.11L330.96 362.81L331.5 362.51L332.03 362.19L332.57 361.88L333.1 361.55L333.64 361.22L334.18 360.88L334.71 360.53L335.25 360.18L335.78 359.82L336.32 359.45L336.86 359.07L337.39 358.69L337.93 358.29L338.46 357.89L339 357.49L339.54 357.07L340.07 356.65L340.61 356.22L341.14 355.78L341.68 355.34L342.22 354.88L342.75 354.42L343.29 353.95L343.82 353.48L344.36 352.99L344.9 352.5L345.43 352L345.97 351.49L346.5 350.98L347.04 350.46L347.58 349.93L348.11 349.39L348.65 348.85L349.18 348.3L349.72 347.74L350.26 347.17L350.79 346.6L351.33 346.02L351.86 345.44L352.4 344.85L352.94 344.25L353.47 343.65L354.01 343.04L354.54 342.43L355.08 341.81L355.62 341.19L356.15 340.56L356.69 339.93L357.22 339.3L357.76 338.65L358.3 338.01L358.83 337.36L359.37 336.71L359.9 336.06L360.44 335.4L360.98 334.74L361.51 334.08L362.05 333.42L362.58 332.76L363.12 332.09L363.66 331.43L364.19 330.76L364.73 330.09L365.26 329.43L365.8 328.76L366.34 328.09L366.87 327.43L367.41 326.77L367.94 326.1L368.48 325.44L369.02 324.79L369.55 324.13L370.09 323.48L370.62 322.83L371.16 322.18L371.7 321.54L372.23 320.9L372.77 320.27L373.3 319.64L373.84 319.01L374.38 318.39L374.91 317.77L375.45 317.16L375.98 316.56L376.52 315.96L377.06 315.37L377.59 314.78L378.13 314.2L378.66 313.62L379.2 313.05L379.74 312.49L380.27 311.94L380.81 311.39L381.34 310.85L381.88 310.31L382.42 309.79L382.95 309.27L383.49 308.76L384.02 308.25L384.56 307.75L385.1 307.27L385.63 306.78L386.17 306.31L386.7 305.84L387.24 305.39L387.78 304.94L388.31 304.49L388.85 304.06L389.38 303.63L389.92 303.21L390.46 302.8L390.99 302.4L391.53 302L392.06 301.61L392.6 301.23L393.14 300.86L393.67 300.49L394.21 300.13L394.74 299.78L395.28 299.44L395.82 299.1L396.35 298.77L396.89 298.45L397.42 298.13L397.96 297.82L398.5 297.52L399.03 297.23L399.57 296.94L400.1 296.66L400.64 296.38L401.18 296.11L401.71 295.85L402.25 295.59L402.78 295.34L403.32 295.1L403.86 294.86L404.39 294.63L404.93 294.4L405.46 294.18L406 293.96L406.54 293.75L407.07 293.54L407.61 293.34L408.14 293.15L408.68 292.95L409.22 292.77L409.75 292.59L410.29 292.41L410.82 292.24L411.36 292.07L411.9 291.91L412.43 291.75L412.97 291.59L413.5 291.44L414.04 291.3L414.58 291.15L415.11 291.01L415.65 290.88L416.18 290.75L416.72 290.62L417.26 290.49L417.79 290.37L418.33 290.25L418.86 290.14L419.4 290.03L419.94 289.92L420.47 289.81L421.01 289.71L421.54 289.61L422.08 289.51L422.62 289.42L423.15 289.33L423.69 289.24L424.22 289.15L424.76 289.06L425.3 288.98L425.83 288.9L426.37 288.82L426.9 288.75L427.44 288.68L427.98 288.6L428.51 288.54L429.05 288.47L429.58 288.4L430.12 288.34L430.66 288.28L431.19 288.22L431.73 288.16L432.26 288.1L432.8 288.05L433.34 287.99L433.87 287.94L434.41 287.89L434.94 287.84L435.48 287.8L436.02 287.75L436.55 287.7L437.09 287.66L437.62 287.62L438.16 287.58L438.7 287.54L439.23 287.5L439.77 287.46L440.3 287.43L440.84 287.39L441.38 287.36L441.91 287.32L442.45 287.29L442.98 287.26L443.52 287.23L444.06 287.2L444.59 287.17L445.13 287.14L445.66 287.11L446.2 287.09L446.74 287.06L447.27 287.04L447.81 287.01L448.34 286.99L448.88 286.97L449.42 286.94L449.95 286.92L450.49 286.9L451.02 286.88L451.56 286.86L452.1 286.84L452.63 286.83L453.17 286.81L453.7 286.79L454.24 286.77L454.78 286.76L455.31 286.74L455.85 286.73L456.38 286.71L456.92 286.7L457.46 286.68L457.99 286.67L458.53 286.66L459.06 286.64L459.6 286.63L460.14 286.62L460.67 286.61L461.21 286.59L461.74 286.58L462.28 286.57L462.82 286.56L463.35 286.55L463.89 286.54L464.42 286.53L464.96 286.52L465.5 286.51L466.03 286.51L466.57 286.5L467.1 286.49L467.64 286.48L468.18 286.47L468.71 286.47L469.25 286.46L469.78 286.45L470.32 286.44L470.86 286.44L471.39 286.43L471.93 286.43L472.46 286.42L473 286.41L473.54 286.41L474.07 286.4L474.61 286.4L475.14 286.39L475.68 286.39L476.22 286.38L476.75 286.38L477.29 286.37L477.82 286.37L478.36 286.36L478.9 286.36L479.43 286.36L479.97 286.35L480.5 286.35L481.04 286.34L481.58 286.34L482.11 286.34L482.65 286.33L483.18 286.33L483.72 286.33L484.26 286.32L484.79 286.32L485.33 286.32L485.86 286.31L486.4 286.31L486.94 286.31L487.47 286.31L488.01 286.3L488.54 286.3L489.08 286.3L489.62 286.3L490.15 286.29L490.69 286.29L491.22 286.29L491.76 286.29L492.3 286.29L492.83 286.28L493.37 286.28L493.9 286.28L494.44 286.28L494.98 286.28L495.51 286.28L496.05 286.27L496.58 286.27L497.12 286.27L497.66 286.27L498.19 286.27L498.73 286.27L499.26 286.27L499.8 286.26L500.34 286.26L500.87 286.26L501.41 286.26L501.94 286.26L502.48 286.26L503.02 286.26L503.55 286.26L504.09 286.26L504.62 286.25L505.16 286.25L505.7 286.25L506.23 286.25L506.77 286.25L507.3 286.25L507.84 286.25L508.38 286.25L508.91 286.25L509.45 286.25L509.98 286.25L510.52 286.25L511.06 286.24L511.59 286.24L512.13 286.24L512.66 286.24L513.2 286.24" fill="none" stroke="#000" stroke-width="2" stroke-linejoin="round"/><g><path d="M298.8 367.25L301.3 371.95L296.3 371.95Z" fill="#fff" stroke="#000" stroke-width="1.6" stroke-linejoin="miter"/><path d="M309.52 367.25L312.02 371.95L307.02 371.95Z" fill="#fff" stroke="#000" stroke-width="1.6" stroke-linejoin="miter"/><path d="M320.24 366.11L322.74 370.81L317.74 370.81Z" fill="#fff" stroke="#000" stroke-width="1.6" stroke-linejoin="miter"/><path d="M330.96 363.83L333.46 368.53L328.46 368.53Z" fill="#fff" stroke="#000" stroke-width="1.6" stroke-linejoin="miter"/><path d="M341.68 354.71L344.18 359.41L339.18 359.41Z" fill="#fff" stroke="#000" stroke-width="1.6" stroke-linejoin="miter"/><path d="M352.4 345.02L354.9 349.72L349.9 349.72Z" fill="#fff" stroke="#000" stroke-width="1.6" stroke-linejoin="miter"/><path d="M363.12 333.62L365.62 338.32L360.62 338.32Z" fill="#fff" stroke="#000" stroke-width="1.6" stroke-linejoin="miter"/><path d="M373.84 306.83L376.34 311.53L371.34 311.53Z" fill="#fff" stroke="#000" stroke-width="1.6" stroke-linejoin="miter"/><path d="M384.56 310.82L387.06 315.52L382.06 315.52Z" fill="#fff" stroke="#000" stroke-width="1.6" stroke-linejoin="miter"/><path d="M395.28 299.99L397.78 304.69L392.78 304.69Z" fill="#fff" stroke="#000" stroke-width="1.6" stroke-linejoin="miter"/><path d="M406 297.14L408.5 301.84L403.5 301.84Z" fill="#fff" stroke="#000" stroke-width="1.6" stroke-linejoin="miter"/><path d="M427.44 288.02L429.94 292.72L424.94 292.72Z" fill="#fff" stroke="#000" stroke-width="1.6" stroke-linejoin="miter"/><path d="M448.88 289.16L451.38 293.86L446.38 293.86Z" fill="#fff" stroke="#000" stroke-width="1.6" stroke-linejoin="miter"/><path d="M470.32 280.61L472.82 285.31L467.82 285.31Z" fill="#fff" stroke="#000" stroke-width="1.6" stroke-linejoin="miter"/><path d="M513.2 280.61L515.7 285.31L510.7 285.31Z" fill="#fff" stroke="#000" stroke-width="1.6" stroke-linejoin="miter"/></g><g><path d="M298.8 366L302 372.2L295.6 372.2Z"/><path d="M309.52 366L312.72 372.2L306.32 372.2Z"/><path d="M320.24 366L323.44 372.2L317.04 372.2Z"/><path d="M320.24 363.72L323.44 369.92L317.04 369.92Z"/><path d="M330.96 366L334.16 372.2L327.76 372.2Z"/><path d="M341.68 366L344.88 372.2L338.48 372.2Z"/><path d="M352.4 349.47L355.6 355.67L349.2 355.67Z"/><path d="M363.12 332.37L366.32 338.57L359.92 338.57Z"/><path d="M373.84 301.02L377.04 307.22L370.64 307.22Z"/><path d="M384.56 289.62L387.76 295.82L381.36 295.82Z"/><path d="M395.28 270.24L398.48 276.44L392.08 276.44Z"/><path d="M406 271.38L409.2 277.58L402.8 277.58Z"/><path d="M427.44 250.86L430.64 257.06L424.24 257.06Z"/><path d="M448.88 247.44L452.08 253.64L445.68 253.64Z"/><path d="M470.32 258.84L473.52 265.04L467.12 265.04Z"/><path d="M513.2 252L516.4 258.2L510 258.2Z"/></g><text x="305.3" y="403.4" font-size="10" text-anchor="middle">CT</text><path d="M330.6 387.1L334.4 393.6L326.8 393.6Z" fill="#fff" stroke="#555" stroke-width="1"/><path d="M328 373.1V386.5" stroke="#000" stroke-width="1.9"/><path d="M328 369.7L330.8 374.5L325.2 374.5Z"/><path d="M325.5 375.4V401.9" stroke="#000" stroke-width="2"/><path d="M325.5 372.4L328.3 377.2L322.7 377.2Z"/><path d="M326 401.4L330.5 408.4L321.5 408.4Z"/></svg></body></html>
